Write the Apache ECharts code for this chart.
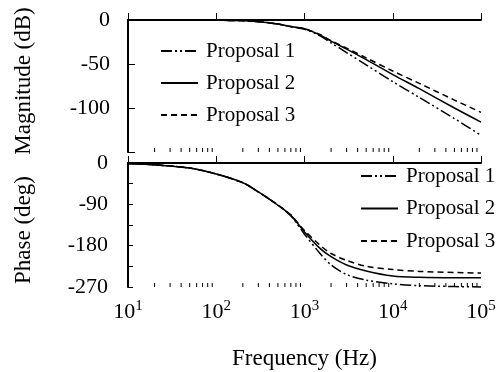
<!DOCTYPE html>
<html>
<head>
<meta charset="utf-8">
<script src="https://cdn.jsdelivr.net/npm/echarts@6/dist/echarts.min.js"></script>
<style>
  html, body { margin: 0; padding: 0; background: #fff; }
  #chart { width: 504px; height: 372px; }
</style>
</head>
<body>
<div id="chart"></div>
<script>
// Frequency points (Hz)
const freq = [10, 20, 50, 100, 200, 300, 500, 700, 1000, 1500, 2000, 3000, 5000, 10000, 20000, 50000, 100000];

// Magnitude response (dB)
const magP1 = [0, 0, -0.1, -0.3, -0.8, -1.9, -4.5, -7.6, -10.5, -18, -26, -37, -51, -70, -88, -112, -131];
const magP2 = [0, 0, -0.1, -0.3, -0.8, -1.9, -4.5, -7.5, -10, -17, -24, -33, -45, -62, -78, -100, -116];
const magP3 = [0, 0, -0.1, -0.3, -0.8, -1.9, -4.5, -7.5, -10, -16.5, -23.5, -32, -43, -58, -72, -91, -105];

// Phase response (deg)
const phP1 = [-1, -4, -11, -24, -43, -63, -92, -115, -155, -197, -222, -243, -255, -263, -267, -269, -270];
const phP2 = [-1, -4, -11, -24, -43, -63, -92, -114, -150, -186, -204, -222, -235, -246, -249, -250, -250];
const phP3 = [-1, -4, -11, -24, -43, -63, -91, -113, -147, -179, -197, -212, -225, -232, -236, -238.5, -239.5];

const names = ['Proposal 1', 'Proposal 2', 'Proposal 3'];
const dashes = [[11, 3, 2, 3, 2, 3], 'solid', [6, 4]];

// Y-axis ranges and tick steps
const magRange = [-150, 0], magStep = 50;
const phRange = [-270, 0], phStep = 45;

const FONT = 'Liberation Serif';
const zip = (ys) => freq.map((f, i) => [f, ys[i]]);

// minor decade ticks (2..9 x 10^k) for the log frequency axis
const minorFreqs = [];
for (let k = 1; k < 5; k++) for (let m = 2; m <= 9; m++) minorFreqs.push(m * Math.pow(10, k));

function lineSeries(name, data, idx, dash) {
  return {
    name: name, type: 'line', xAxisIndex: idx, yAxisIndex: idx,
    data: data, symbol: 'none', clip: false, z: 3, color: '#000',
    smooth: 0.3,
    lineStyle: { color: '#000', width: 1.5, type: dash }
  };
}

function minorTickSeries(idx, yBase) {
  return {
    type: 'custom', xAxisIndex: idx, yAxisIndex: idx, silent: true, z: 4,
    data: minorFreqs.map(f => [f, yBase]),
    renderItem: function (params, api) {
      const p = api.coord([api.value(0), api.value(1)]);
      return { type: 'line', shape: { x1: p[0], y1: p[1], x2: p[0], y2: p[1] - 4 },
               style: { stroke: '#000', lineWidth: 1 } };
    }
  };
}

const xCommon = {
  type: 'log', logBase: 10, min: 10, max: 100000,
  axisLine: { show: true, lineStyle: { color: '#000', width: 2 } },
  axisTick: { show: true, inside: true, length: 7, lineStyle: { color: '#000', width: 1 } },
  splitLine: { show: false }
};

function legendAt(left, top, gap) {
  return {
    orient: 'vertical', left: left, top: top, itemWidth: 37, itemHeight: 14, itemGap: gap,
    data: names, selectedMode: false,
    itemStyle: { opacity: 0 },
    textStyle: { fontFamily: FONT, fontSize: 21, color: '#000', lineHeight: 22, padding: [0, 0, 0, 3] }
  };
}

const chart = echarts.init(document.getElementById('chart'));
chart.setOption({
  animation: false,
  backgroundColor: '#fff',
  grid: [
    { left: 128, top: 20, width: 353, height: 132 },
    { left: 128, top: 163, width: 353, height: 124 }
  ],
  xAxis: [
    Object.assign({}, xCommon, { gridIndex: 0, axisLabel: { show: false } }),
    Object.assign({}, xCommon, {
      gridIndex: 1,
      name: 'Frequency (Hz)', nameLocation: 'middle', nameGap: 60,
      nameTextStyle: { fontFamily: FONT, fontSize: 23, color: '#000' },
      axisLabel: {
        margin: 12, color: '#000', fontFamily: FONT, fontSize: 22,
        formatter: v => '10{s|' + Math.round(Math.log10(v)) + '}',
        rich: { s: { fontFamily: FONT, fontSize: 15, color: '#000', verticalAlign: 'top', padding: [0, 0, 11, 0] } }
      }
    })
  ],
  yAxis: [
    {
      gridIndex: 0, type: 'value', min: magRange[0], max: magRange[1], interval: magStep,
      axisLine: { show: true, lineStyle: { color: '#000', width: 2 } },
      axisTick: { show: true, inside: true, length: 7, lineStyle: { color: '#000', width: 1 } },
      splitLine: { show: false },
      axisLabel: { margin: 18, color: '#000', fontFamily: FONT, fontSize: 22,
                   formatter: v => (v === magRange[0] ? '' : String(v)) }
    },
    {
      gridIndex: 1, type: 'value', min: phRange[0], max: phRange[1], interval: phStep,
      axisLine: { show: true, lineStyle: { color: '#000', width: 2 } },
      axisTick: { show: true, inside: true, length: 5, lineStyle: { color: '#000', width: 1 } },
      splitLine: { show: false },
      axisLabel: { margin: 20, color: '#000', fontFamily: FONT, fontSize: 22,
                   formatter: v => (v % 90 === 0 ? String(v) : '') }
    }
  ],
  legend: [legendAt(155, 35, 10), legendAt(355, 160, 10.5)],
  graphic: [
    { type: 'text', x: 24, y: 81, rotation: Math.PI / 2,
      style: { text: 'Magnitude (dB)', font: '23px "Liberation Serif"', fill: '#000', align: 'center', verticalAlign: 'middle' } },
    { type: 'text', x: 24, y: 230, rotation: Math.PI / 2,
      style: { text: 'Phase (deg)', font: '23px "Liberation Serif"', fill: '#000', align: 'center', verticalAlign: 'middle' } }
  ],
  series: [
    lineSeries(names[0], zip(magP1), 0, dashes[0]),
    lineSeries(names[1], zip(magP2), 0, dashes[1]),
    lineSeries(names[2], zip(magP3), 0, dashes[2]),
    lineSeries(names[0], zip(phP1), 1, dashes[0]),
    lineSeries(names[1], zip(phP2), 1, dashes[1]),
    lineSeries(names[2], zip(phP3), 1, dashes[2]),
    minorTickSeries(0, magRange[0]),
    minorTickSeries(1, phRange[0])
  ]
});
</script>
</body>
</html>
